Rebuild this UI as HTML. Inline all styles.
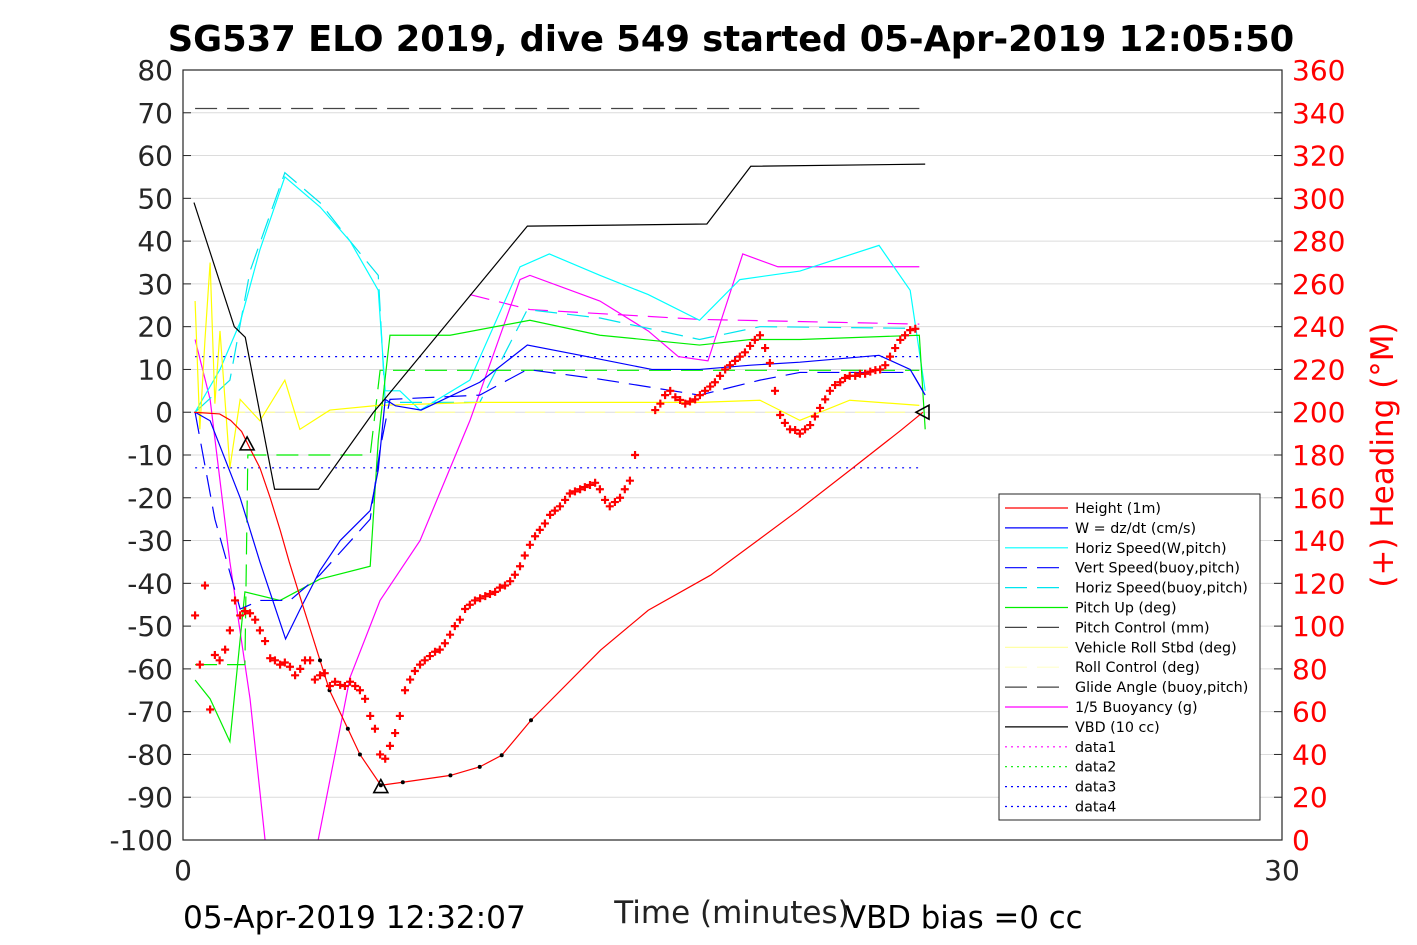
<!DOCTYPE html>
<html><head><meta charset="utf-8"><style>
body{margin:0;background:#fff;}
svg{display:block;font-family:"Liberation Sans","DejaVu Sans",sans-serif;}
</style></head><body>
<svg id="c" width="1417" height="945">
<text x="731" y="51" font-size="35.3" font-weight="bold" text-anchor="middle" font-family="DejaVu Sans, sans-serif">SG537 ELO 2019, dive 549 started 05-Apr-2019 12:05:50</text>
<g id="grid"></g><g id="series"></g><g id="axes"></g>
<text x="183" y="928" font-size="31.2" font-family="DejaVu Sans, sans-serif">05-Apr-2019 12:32:07</text>
<text x="732" y="923" font-size="31" fill="#222" text-anchor="middle" font-family="DejaVu Sans, sans-serif">Time (minutes)</text>
<text x="845" y="928" font-size="30.8" font-family="DejaVu Sans, sans-serif">VBD bias =0 cc</text>
<text transform="translate(1393,455) rotate(-90)" font-size="31" fill="red" text-anchor="middle" font-family="DejaVu Sans, sans-serif">(+) Heading (°M)</text>
<g id="legend"></g>
</svg>
<script>
const tHeight=[0.3,1.0,1.3,1.6,1.83,2.1,2.38,2.65,2.9,3.19,3.74,4.0,4.5,4.83,5.4,6.0,7.3,8.1,8.7,9.5,11.4,12.7,14.4,15.7,16.8,18.2,19.6,20.2];
const vHeight=[0,-0.4,-1.9,-4.5,-8.5,-13,-20,-27.5,-35,-43,-58,-65,-74,-80,-87.2,-86.5,-84.9,-82.9,-80.2,-72,-55.6,-46.3,-38.1,-29.9,-22.9,-13.6,-4.2,0];
const tVBD=[0.3,1.4,1.7,2.5,3.7,5.2,5.5,9.4,14.3,15.5,20.26];
const vVBD=[49,20,17.5,-18,-18,0,3,43.5,44,57.5,58];
const tW=[0.33,0.74,1.56,2.1,2.8,3.2,3.74,4.29,5.11,5.33,5.52,5.8,6.5,8.1,9.4,10.85,12.8,14.1,15.5,16.84,19.0,19.85,20.26];
const vW=[0,-2,-20,-35,-53,-46,-37,-30,-23,-13.5,3,1.5,0.5,7,15.7,13.3,10,10,11,11.7,13.3,10,4];
const tVS=[0.33,0.87,1.56,2.1,2.92,3.74,5.11,5.38,5.65,8.1,9.4,11.4,14.1,15.75,16.84,19.9,20.26];
const vVS=[0,-25,-46,-44,-44,-38,-25,-8.6,3,4,10,7.7,4,7.5,9.3,9.3,4];
const tHS=[0.33,1.01,1.56,2.1,2.78,3.74,4.56,5.33,5.52,5.92,6.47,7.83,9.2,10.0,11.38,12.7,14.1,15.2,16.84,19.0,19.85,20.26];
const vHS=[0,10,21,38,55,48,40,28.5,5,5,0.5,7.5,34,37,32,27.5,21.5,31,33,39,28.5,5];
const tHB=[0.33,1.28,1.83,2.78,3.74,4.56,5.33,5.52,8.1,9.4,11.4,14.1,15.75,20.1];
const vHB=[0,7.5,33,56,49,40,32,2.3,2.3,24,22,17,20,19.6];
const tPU=[0.33,0.74,1.28,1.69,2.65,3.74,5.11,5.33,5.65,7.29,9.47,11.38,14.1,15.5,16.84,20.1,20.26];
const vPU=[-62.6,-67,-77,-42,-44,-39,-36,-6.5,18,18,21.5,18,15.7,17,17,18,-4];
const tPC=[0.33,1.69,1.77,5.11,5.38,20.1];
const vPC=[-59,-59,-10,-10,9.8,9.8];
const tRoll=[0.33,0.46,0.6,0.74,0.87,1.01,1.28,1.56,2.1,2.78,3.19,4.01,5.33,8.1,14.1,15.75,16.84,18.2,20.1];
const vRoll=[26,-4,17,35,2,19,-13,3,-2,7.5,-4,0.5,1.6,2.3,2.3,2.8,-1.9,2.8,1.6];
const tBuoy=[0.33,0.74,1.28,1.83,2.24];
const vBuoy=[17,3,-35,-67,-100];
const tBuoy2=[3.69,4.56,5.38,6.47,7.83,9.2,9.47,11.38,12.7,13.52,14.33,15.28,16.24,20.1];
const vBuoy2=[-100,-62,-44,-30,-2,31,32,26,19,13,12,37,34,34];
const tGlide=[7.83,9.47,14.1,20.1];
const vGlide=[27.5,24,21.7,20.6];
const hTime=[0.33,0.46,0.6,0.74,0.87,1.0,1.15,1.28,1.42,1.56,1.69,1.83,1.97,2.1,2.24,2.38,2.51,2.65,2.78,2.92,3.06,3.2,3.33,3.47,3.6,3.74,3.87,4.01,4.15,4.29,4.42,4.56,4.7,4.83,4.97,5.11,5.24,5.38,5.52,5.65,5.79,5.92,6.06,6.2,6.33,6.47,6.6,6.74,6.88,7.01,7.15,7.29,7.42,7.56,7.7,7.83,7.97,8.11,8.25,8.38,8.52,8.65,8.79,8.93,9.06,9.2,9.33,9.47,9.61,9.74,9.88,10.02,10.15,10.29,10.43,10.56,10.7,10.84,10.97,11.11,11.25,11.38,11.52,11.65,11.79,11.93,12.06,12.2,12.34,12.89,13.03,13.16,13.3,13.44,13.57,13.71,13.84,13.98,14.11,14.25,14.39,14.52,14.66,14.8,14.93,15.07,15.2,15.34,15.48,15.61,15.75,15.89,16.02,16.16,16.3,16.43,16.57,16.71,16.84,16.98,17.12,17.25,17.39,17.53,17.66,17.8,17.94,18.07,18.2,18.35,18.48,18.62,18.76,18.9,19.03,19.17,19.3,19.44,19.58,19.71,19.85,19.99,20.12,20.26];
const hDeg=[105,82,119,61,86.5,84,89,98,112,105,107,106,103,98,93,85,84,82,83,81,77,80,84,84,75,77,78,72,74,72.5,72,74,72,70,66,58,52,40,38,44,50,58,70,75,79,82,84,86,88,89,92,96,100,103,108,110,112,113,114,115,116,118,119,121,124,128,133,138,142,145,148,152,154,156,159,162,163,164,165,166,167,164,159,156,158,160,164,168,180,201,204,208,210,207,205.7,204,205,206,208,210,212,214,217,220,222,224,226,228,231,233.8,236,230,223,210,198.7,195,192,191.7,190,192,194,198,202,206,210,212.7,214,216,217,217,218,218,219,219.7,220,222,226,230,233.8,236,238.4,239];
const yTicks=[80,70,60,50,40,30,20,10,0,-10,-20,-30,-40,-50,-60,-70,-80,-90,-100];
const rTicks=[360,340,320,300,280,260,240,220,200,180,160,140,120,100,80,60,40,20,0];
const xTicks=[0,30];

const X0=183,X1=1282,Y0=70,Y1=840;
const sx=t=>X0+(t/30)*(X1-X0);
const sy=v=>Y0+(80-v)/180*(Y1-Y0);
const sr=d=>Y1-d/360*(Y1-Y0);
const NS='http://www.w3.org/2000/svg';
function mk(tag,attrs,parent){const e=document.createElementNS(NS,tag);for(const k in attrs)e.setAttribute(k,attrs[k]);parent.appendChild(e);return e;}
const grid=document.getElementById('grid'),ser=document.getElementById('series'),ax=document.getElementById('axes'),leg=document.getElementById('legend');
yTicks.forEach(v=>{if(v===80||v===-100)return;const l=mk('line',{x1:X0,x2:X1,y1:sy(v),y2:sy(v),stroke:'#dcdcdc','stroke-width':1},grid);

});
function line(ts,vs,color,dash,name,w){const pts=ts.map((t,i)=>sx(t)+','+sy(vs[i])).join(' ');
const p=mk('polyline',{points:pts,fill:'none',stroke:color,'stroke-width':w||1.2,'stroke-dasharray':dash||'none'},ser);

}
const clip=mk('clipPath',{id:'pc'},document.getElementById('c'));mk('rect',{x:X0,y:Y0,width:X1-X0,height:Y1-Y0},clip);
ser.setAttribute('clip-path','url(#pc)');
[[71,'#444','22,10','glide-angle-ref'],[13,'#00f','2,5','data3-line'],[-13,'#00f','2,5','data4-line']].forEach(r=>{const l=mk('line',{x1:sx(0.33),x2:sx(20.1),y1:sy(r[0]),y2:sy(r[0]),stroke:r[1],'stroke-dasharray':r[2],'stroke-width':1.2},ser);

});
line(tRoll,vRoll.map(()=>0),'#ffff99','20,10','roll-control-line');
line(tGlide,vGlide,'#ff00ff','20,10','glide-angle-line');
line(tBuoy,vBuoy,'#ff00ff',null,'buoyancy-line');
line(tBuoy2,vBuoy2,'#ff00ff',null,'buoyancy-line-2');
line(tHB,vHB,'#00e5ee','22,10','horiz-speed-buoy-line');
line(tHS,vHS,'#00ffff',null,'horiz-speed-line');
line(tPC,vPC,'#00ee00','22,10','pitch-control-line');
line(tPU,vPU,'#00ee00',null,'pitch-up-line');
line(tRoll,vRoll,'#ffff00',null,'vehicle-roll-line');
line(tVS,vVS,'#0000ff','22,10','vert-speed-line');
line(tW,vW,'#0000ff',null,'w-line');
line(tVBD,vVBD,'#000',null,'vbd-line');
line(tHeight,vHeight,'#ff0000',null,'height-line');
tHeight.forEach((t,i)=>{if((t>=3.7&&t<=9.5)){const c=mk('circle',{cx:sx(t),cy:sy(vHeight[i]),r:2,fill:'#000'},ser);

}});
hTime.forEach((t,i)=>{const x=sx(t),y=sr(hDeg[i]);const g=mk('path',{d:`M${x-4},${y}H${x+4}M${x},${y-4}V${y+4}`,stroke:'red','stroke-width':2.2},ser);

});
[[1.75,-7.4,'up'],[5.4,-87.5,'up'],[20.2,0,'left']].forEach(tr=>{const x=sx(tr[0]),y=sy(tr[1]);const d=tr[2]==='up'?`M${x-7},${y+6}L${x},${y-7}L${x+7},${y+6}Z`:`M${x+6},${y-7}L${x-7},${y}L${x+6},${y+7}Z`;
const p=mk('path',{d:d,fill:'none',stroke:'#000','stroke-width':1.6},ser);

});
const fr=mk('rect',{x:X0,y:Y0,width:X1-X0,height:Y1-Y0,fill:'none',stroke:'#262626','stroke-width':1.2},ax);


yTicks.forEach(v=>{const y=sy(v);mk('line',{x1:X0,x2:X0+8,y1:y,y2:y,stroke:'#262626'},ax);
const t=mk('text',{x:X0-10,y:y+10,'font-size':28,'text-anchor':'end',fill:'#262626','font-family':'DejaVu Sans, sans-serif'},ax);t.textContent=v;

});
rTicks.forEach(v=>{const y=sr(v);mk('line',{x1:X1-8,x2:X1,y1:y,y2:y,stroke:'#262626'},ax);
const t=mk('text',{x:X1+10,y:y+10,'font-size':28,fill:'red','font-family':'DejaVu Sans, sans-serif'},ax);t.textContent=v;

});
xTicks.forEach(v=>{const x=sx(v);const t=mk('text',{x:x,y:880,'font-size':28,'text-anchor':'middle',fill:'#262626','font-family':'DejaVu Sans, sans-serif'},ax);t.textContent=v;

});
const legNames=['Height (1m)','W = dz/dt (cm/s)','Horiz Speed(W,pitch)','Vert Speed(buoy,pitch)','Horiz Speed(buoy,pitch)','Pitch Up (deg)','Pitch Control (mm)','Vehicle Roll Stbd (deg)','Roll Control (deg)','Glide Angle (buoy,pitch)','1/5 Buoyancy (g)','VBD (10 cc)','data1','data2','data3','data4'];
const legColors=['#ff0000','#0000ff','#00ffff','#0000ff','#00e5ee','#00ee00','#444','#ffff99','#ffffcc','#444','#ff00ff','#000','#ff00ff','#00ee00','#0000ff','#0000ff'];
const legDash=['none','none','none','22,10','22,10','none','22,10','none','22,10','22,10','none','none','2,4','2,4','2,4','2,4'];
const lb=mk('rect',{x:999,y:494,width:261,height:326,fill:'#fff',stroke:'#262626','stroke-width':1},leg);


legNames.forEach((n,i)=>{const y=508+i*19.9;const g=mk('g',{},leg);


mk('line',{x1:1005,x2:1068,y1:y,y2:y,stroke:legColors[i],'stroke-dasharray':legDash[i],'stroke-width':1.2},g);
const t=mk('text',{x:1075,y:y+5,'font-size':14.3,fill:'#000','font-family':'DejaVu Sans, sans-serif'},g);t.textContent=n;});
</script>
</body></html>
